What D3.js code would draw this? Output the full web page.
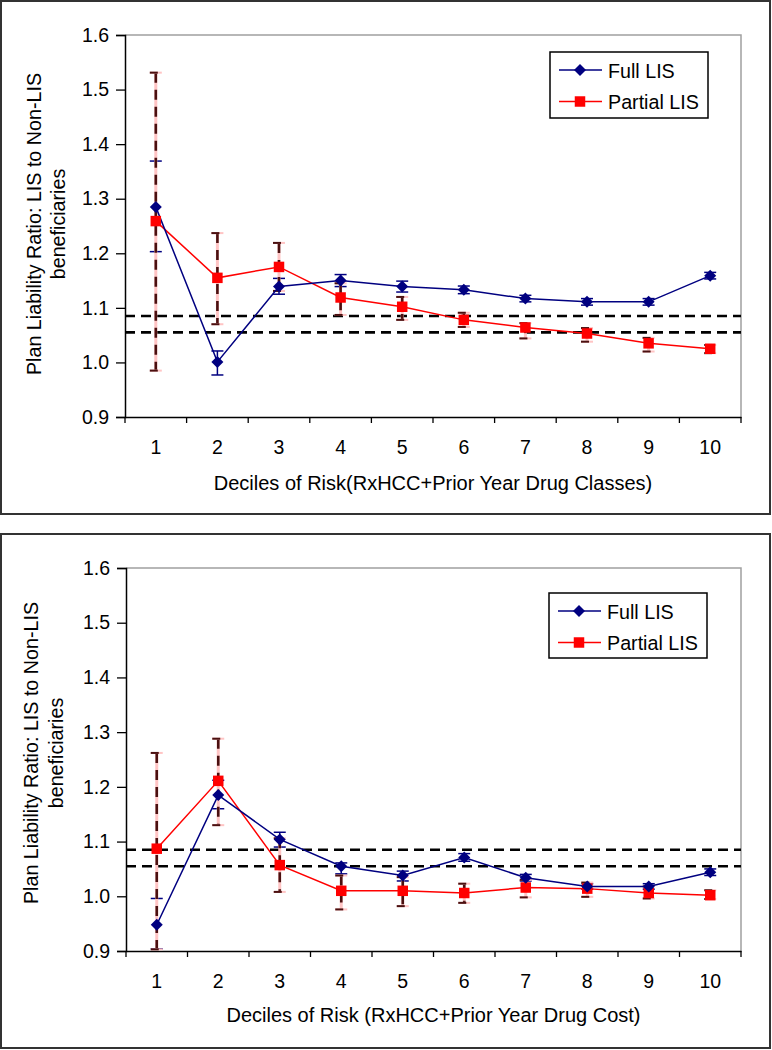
<!DOCTYPE html>
<html>
<head>
<meta charset="utf-8">
<script src="https://cdn.jsdelivr.net/npm/d3@7/dist/d3.min.js"></script>
<style>
  html, body { margin: 0; padding: 0; background: #fff; }
  svg { display: block; }
  text { font-family: "Liberation Sans", Arial, sans-serif; fill: #000; }
</style>
</head>
<body>
<svg id="chart" width="772" height="1050"></svg>
<script>
// ---------- DATA ----------
const categories = [1, 2, 3, 4, 5, 6, 7, 8, 9, 10];
const yTicks = [0.9, 1.0, 1.1, 1.2, 1.3, 1.4, 1.5, 1.6];
const seriesNames = ["Full LIS", "Partial LIS"];
const refLines = [1.085, 1.055];

// Panel A: RxHCC + Prior Year Drug Classes
const topFull       = [1.285, 1.001, 1.139, 1.150, 1.139, 1.133, 1.117, 1.111, 1.111, 1.159];
const topFullHi     = [1.369, 1.021, 1.154, 1.161, 1.149, 1.140, 1.123, 1.117, 1.117, 1.165];
const topFullLo     = [1.203, 0.977, 1.125, 1.139, 1.129, 1.126, 1.111, 1.105, 1.105, 1.153];
const topPartial    = [1.259, 1.155, 1.175, 1.119, 1.102, 1.078, 1.064, 1.053, 1.035, 1.025];
const topPartialHi  = [1.531, 1.237, 1.219, 1.145, 1.120, 1.091, 1.072, 1.063, 1.045, 1.032];
const topPartialLo  = [0.985, 1.070, 1.131, 1.087, 1.078, 1.065, 1.044, 1.038, 1.020, 1.017];
const topXTitle = "Deciles of Risk(RxHCC+Prior Year Drug Classes)";

// Panel B: RxHCC + Prior Year Drug Cost
const botFull       = [0.948, 1.185, 1.104, 1.055, 1.038, 1.071, 1.034, 1.018, 1.018, 1.044];
const botFullHi     = [0.996, 1.212, 1.117, 1.061, 1.046, 1.078, 1.040, 1.023, 1.023, 1.050];
const botFullLo     = [0.904, 1.160, 1.090, 1.041, 1.028, 1.064, 1.028, 1.013, 1.013, 1.038];
const botPartial    = [1.087, 1.211, 1.057, 1.010, 1.010, 1.006, 1.016, 1.014, 1.006, 1.002];
const botPartialHi  = [1.262, 1.288, 1.106, 1.038, 1.035, 1.023, 1.030, 1.025, 1.018, 1.011];
const botPartialLo  = [0.903, 1.130, 1.008, 0.976, 0.982, 0.988, 0.998, 0.999, 0.996, 0.995];
const botXTitle = "Deciles of Risk (RxHCC+Prior Year Drug Cost)";

const yTitle1 = "Plan Liability Ratio: LIS to Non-LIS";
const yTitle2 = "beneficiaries";

// ---------- STYLE ----------
const NAVY = "#000080", RED = "#ff0000", PINK = "#ffc4c4", DARK = "#4a1010";

const svg = d3.select("#chart");

// square diamond (rotated square) symbol type
const diamondType = {
  draw(ctx, size) {
    const r = Math.sqrt(size / 2);
    ctx.moveTo(0, -r); ctx.lineTo(r, 0); ctx.lineTo(0, r); ctx.lineTo(-r, 0); ctx.closePath();
  }
};
const diamondSym = d3.symbol().type(diamondType).size(72);
const squareSym = d3.symbol().type(d3.symbolSquare).size(110);

function drawPanel(cfg) {
  const { box, plot, full, fullHi, fullLo, part, partHi, partLo, xTitle, legend, yTitleCenter } = cfg;
  svg.append("rect")
    .attr("x", box[0]).attr("y", box[1]).attr("width", box[2]).attr("height", box[3])
    .attr("fill", "#fff").attr("stroke", "#333").attr("stroke-width", 2);

  const x = d3.scaleBand().domain(categories).range([plot.x0, plot.x1]);
  const y = d3.scaleLinear().domain([0.9, 1.6]).range([plot.y1, plot.y0]);
  const cx = d => x(d) + x.bandwidth() / 2;

  const g = svg.append("g");

  g.append("path")
    .attr("d", `M${plot.x0},${y(1.6)}H${plot.x1}V${y(0.9)}`)
    .attr("fill", "none").attr("stroke", "#a0a0a0").attr("stroke-width", 1.5);

  g.selectAll(".ref").data(refLines).join("line")
    .attr("x1", plot.x0).attr("x2", plot.x1)
    .attr("y1", d => y(d)).attr("y2", d => y(d))
    .attr("stroke", "#000").attr("stroke-width", 2.6).attr("stroke-dasharray", "10,6");

  const yAxis = d3.axisLeft(y).tickValues(yTicks).tickFormat(d3.format(".1f"))
    .tickSize(9).tickPadding(7);
  const ya = g.append("g").attr("transform", `translate(${plot.x0},0)`).call(yAxis);
  ya.select(".domain").attr("stroke", "#000").attr("stroke-width", 1.5);
  ya.selectAll(".tick line").attr("stroke", "#000").attr("stroke-width", 1.3);
  ya.selectAll(".tick text").attr("font-size", 19.5).attr("font-family", "Liberation Sans, Arial, sans-serif").attr("fill", "#000");

  const xAxis = d3.axisBottom(x).tickSize(0).tickPadding(23);
  const xa = g.append("g").attr("transform", `translate(0,${plot.y1})`).call(xAxis);
  xa.select(".domain").attr("stroke", "#000").attr("stroke-width", 1.5);
  xa.selectAll(".tick text").attr("font-size", 19.5).attr("font-family", "Liberation Sans, Arial, sans-serif").attr("fill", "#000");
  const bounds = categories.map(c => x(c)).concat([x(categories[categories.length - 1]) + x.bandwidth()]);
  g.selectAll(".xb").data(bounds).join("line")
    .attr("x1", d => d).attr("x2", d => d)
    .attr("y1", plot.y1).attr("y2", plot.y1 + 6)
    .attr("stroke", "#000").attr("stroke-width", 1.3);

  g.append("text").attr("x", (plot.x0 + plot.x1) / 2).attr("y", plot.y1 + cfg.xTitleDy)
    .attr("text-anchor", "middle").attr("font-size", 20).text(xTitle);

  g.append("text").attr("transform", `translate(${cfg.yTitleX[0]},${yTitleCenter}) rotate(-90)`)
    .attr("text-anchor", "middle").attr("font-size", 19.7).text(yTitle1);
  g.append("text").attr("transform", `translate(${cfg.yTitleX[1]},${yTitleCenter}) rotate(-90)`)
    .attr("text-anchor", "middle").attr("font-size", 19.7).text(yTitle2);

  const capW = 6;
  const fe = g.append("g");
  categories.forEach((c, i) => {
    fe.append("line").attr("x1", cx(c)).attr("x2", cx(c)).attr("y1", y(fullLo[i])).attr("y2", y(fullHi[i]))
      .attr("stroke", NAVY).attr("stroke-width", 1.5);
    [fullLo[i], fullHi[i]].forEach(v => {
      fe.append("line").attr("x1", cx(c) - capW).attr("x2", cx(c) + capW).attr("y1", y(v)).attr("y2", y(v))
        .attr("stroke", NAVY).attr("stroke-width", 1.5);
    });
  });
  const pe = g.append("g");
  categories.forEach((c, i) => {
    pe.append("line").attr("x1", cx(c)).attr("x2", cx(c)).attr("y1", y(partLo[i])).attr("y2", y(partHi[i]))
      .attr("stroke", PINK).attr("stroke-width", 3);
    pe.append("line").attr("x1", cx(c)).attr("x2", cx(c)).attr("y1", y(partHi[i])).attr("y2", y(partLo[i]))
      .attr("stroke", DARK).attr("stroke-width", 2.6).attr("stroke-dasharray", "10,7");
    [partLo[i], partHi[i]].forEach(v => {
      pe.append("line").attr("x1", cx(c) - capW).attr("x2", cx(c) + capW).attr("y1", y(v)).attr("y2", y(v))
        .attr("stroke", PINK).attr("stroke-width", 2);
      pe.append("line").attr("x1", cx(c) - capW).attr("x2", cx(c) + 2).attr("y1", y(v)).attr("y2", y(v))
        .attr("stroke", DARK).attr("stroke-width", 2);
    });
  });

  const line = d3.line().x((d, i) => cx(categories[i])).y(d => y(d));
  g.append("path").datum(part).attr("d", line).attr("fill", "none").attr("stroke", RED).attr("stroke-width", 1.5);
  g.append("path").datum(full).attr("d", line).attr("fill", "none").attr("stroke", NAVY).attr("stroke-width", 1.5);

  g.selectAll(".pm").data(part).join("path")
    .attr("transform", (d, i) => `translate(${cx(categories[i])},${y(d)})`)
    .attr("d", squareSym).attr("fill", RED);
  g.selectAll(".fm").data(full).join("path")
    .attr("transform", (d, i) => `translate(${cx(categories[i])},${y(d)})`)
    .attr("d", diamondSym).attr("fill", NAVY);

  const lg = g.append("g");
  lg.append("rect").attr("x", legend.x).attr("y", legend.y).attr("width", legend.w).attr("height", legend.h)
    .attr("fill", "#fff").attr("stroke", "#000").attr("stroke-width", 1.5);
  const rows = [
    { name: seriesNames[0], color: NAVY, sym: diamondSym },
    { name: seriesNames[1], color: RED, sym: squareSym }
  ];
  rows.forEach((r, i) => {
    const ry = legend.y + 18 + i * 31.5;
    lg.append("line").attr("x1", legend.x + 9).attr("x2", legend.x + 52).attr("y1", ry).attr("y2", ry)
      .attr("stroke", r.color).attr("stroke-width", 1.5);
    lg.append("path").attr("transform", `translate(${legend.x + 30},${ry})`).attr("d", r.sym).attr("fill", r.color);
    lg.append("text").attr("x", legend.x + 58).attr("y", ry + 7.5).attr("font-size", 19.7).text(r.name);
  });
}

drawPanel({
  box: [1, 1, 769, 513],
  plot: { x0: 125, x1: 741, y0: 35, y1: 417 },
  full: topFull, fullHi: topFullHi, fullLo: topFullLo,
  part: topPartial, partHi: topPartialHi, partLo: topPartialLo,
  xTitle: topXTitle, xTitleDy: 73,
  yTitleX: [41, 65], yTitleCenter: 224,
  legend: { x: 550, y: 52, w: 158, h: 66 }
});

drawPanel({
  box: [1, 534, 769, 514],
  plot: { x0: 126, x1: 741, y0: 568, y1: 951 },
  full: botFull, fullHi: botFullHi, fullLo: botFullLo,
  part: botPartial, partHi: botPartialHi, partLo: botPartialLo,
  xTitle: botXTitle, xTitleDy: 71,
  yTitleX: [38, 63], yTitleCenter: 753,
  legend: { x: 549, y: 593, w: 158, h: 65 }
});
</script>
</body>
</html>
